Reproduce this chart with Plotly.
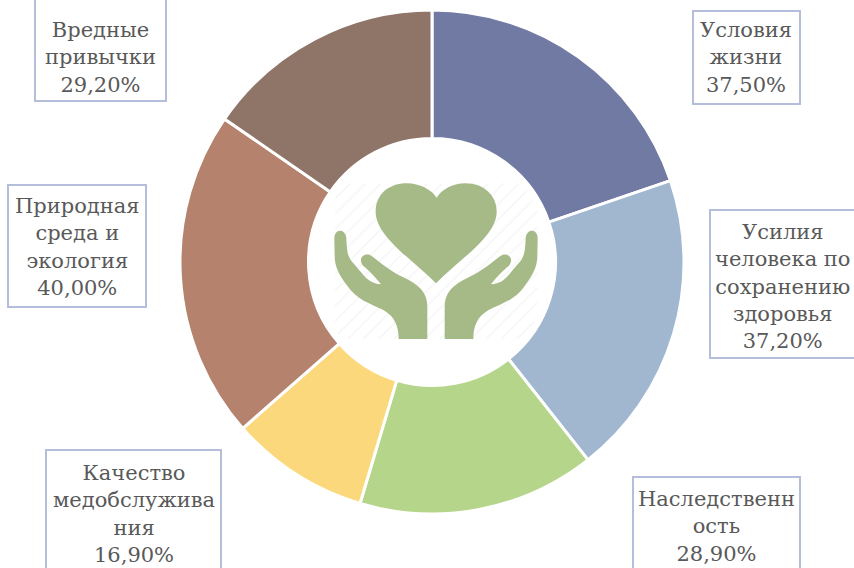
import plotly.graph_objects as go

W, H = 854, 568
categories = ["Условия жизни", "Усилия человека по сохранению здоровья", "Наследственность",
              "Качество медобслуживания", "Природная среда и экология", "Вредные привычки"]
values = [37.5, 37.2, 28.9, 16.9, 40.0, 29.2]
colors = ["#707AA3", "#A1B7CF", "#B5D68A", "#FBD87B", "#B4826D", "#8F7468"]
label_texts = ["Условия<br>жизни<br>37,50%",
               "Усилия<br>человека по<br>сохранению<br>здоровья<br>37,20%",
               "Наследственн<br>ость<br>28,90%",
               "Качество<br>медобслужива<br>ния<br>16,90%",
               "Природная<br>среда и<br>экология<br>40,00%",
               "Вредные<br>привычки<br>29,20%"]
# box: left, top, right, bottom in page pixels
label_boxes = [(693, 11, 800, 104), (710, 210, 857, 358), (633, 477, 800, 582),
               (46, 450, 221, 582), (8, 185, 146, 307), (35, -4, 166, 101)]
# centre of each text block in page pixels
label_centres = [(746, 58), (783, 286), (716, 526), (134, 514), (77, 247.5), (100, 57)]

FONT = "DejaVu Serif"
FS = 21
TXT = "#595959"
EDGE = "#B4BEDA"
ICON = "#A6BA87"


def X(p):
    return p / W


def Y(p):
    return 1 - p / H


def zoom_pt(zx, zy):
    return 300 + zx / 3, 130 + zy / 3


def to_path(parts):
    out = []
    for cmd, pts in parts:
        out.append(cmd + " ".join(f"{X(zoom_pt(*q)[0]):.5f},{Y(zoom_pt(*q)[1]):.5f}" for q in pts))
    return " ".join(out) + " Z"


heart = [("M", [(408, 460)]),
         ("C", [(340, 390), (227, 320), (227, 245)]),
         ("C", [(227, 190), (270, 160), (320, 160)]),
         ("C", [(360, 160), (395, 180), (410, 203)]),
         ("C", [(425, 180), (455, 160), (497, 160)]),
         ("C", [(550, 160), (590, 195), (590, 245)]),
         ("C", [(590, 320), (475, 390), (408, 460)])]

left_hand = [("M", [(296, 627)]),
             ("C", [(296, 590), (285, 560), (250, 540)]),
             ("C", [(210, 520), (170, 510), (140, 465)]),
             ("C", [(115, 430), (105, 410), (104, 380)]),
             ("L", [(103, 325)]),
             ("C", [(103, 295), (137, 295), (139, 325)]),
             ("C", [(141, 375), (145, 385), (165, 405)]),
             ("C", [(195, 440), (205, 460), (243, 463)]),
             ("C", [(225, 440), (205, 420), (190, 408)]),
             ("C", [(170, 385), (195, 362), (218, 380)]),
             ("C", [(250, 405), (275, 425), (310, 442)]),
             ("C", [(360, 465), (382, 490), (382, 530)]),
             ("L", [(382, 627)])]
right_hand = [(c, [(816 - a, b) for a, b in pts]) for c, pts in left_hand]

shapes = []
# faint diagonal hatch behind the icon, kept inside the hole
zx0, zx1, zy0, zy1 = 105, 712, 160, 627
cx, cy, rad = 396, 396, 355
step = 46
c = zx0 + zy0
while c < zx1 + zy1:
    xa = max(zx0, c - zy1)
    xb = min(zx1, c - zy0)
    d = c - cx - cy
    half = rad ** 2 - d ** 2 / 2
    if half > 0:
        h = (half / 2) ** 0.5
        mid = cx + d / 2
        xa = max(xa, mid - h)
        xb = min(xb, mid + h)
        if xb > xa:
            pa = zoom_pt(xa, c - xa)
            pb = zoom_pt(xb, c - xb)
            shapes.append(dict(type="line", xref="paper", yref="paper", x0=X(pa[0]), y0=Y(pa[1]),
                               x1=X(pb[0]), y1=Y(pb[1]), line=dict(color="#F8F8F8", width=2)))
    c += step

for part in (heart, left_hand, right_hand):
    shapes.append(dict(type="path", xref="paper", yref="paper", path=to_path(part),
                       fillcolor=ICON, line=dict(width=0)))

annotations = []
for text, (l, t, r, b), (tx, ty) in zip(label_texts, label_boxes, label_centres):
    shapes.append(dict(type="rect", xref="paper", yref="paper", x0=X(l), x1=X(r), y0=Y(t), y1=Y(b),
                       line=dict(color=EDGE, width=2), fillcolor="rgba(255,255,255,0)"))
    annotations.append(dict(text=text, xref="paper", yref="paper", showarrow=False,
                            x=X(tx), y=Y(ty), xanchor="center", yanchor="middle", align="center",
                            font=dict(family=FONT, size=FS, color=TXT)))

fig = go.Figure(go.Pie(
    labels=categories, values=values, hole=0.49, sort=False, direction="clockwise", rotation=0,
    marker=dict(colors=colors, line=dict(color="white", width=3)),
    textinfo="none", showlegend=False,
    domain=dict(x=[X(180), X(684)], y=[Y(514), Y(10)]),
))
fig.update_layout(width=W, height=H, margin=dict(l=0, r=0, t=0, b=0),
                  paper_bgcolor="white", plot_bgcolor="white",
                  shapes=shapes, annotations=annotations)
fig.write_html("out.html", config={"displayModeBar": False},
               post_script="document.body.style.margin='0';document.body.style.overflow='hidden';")
